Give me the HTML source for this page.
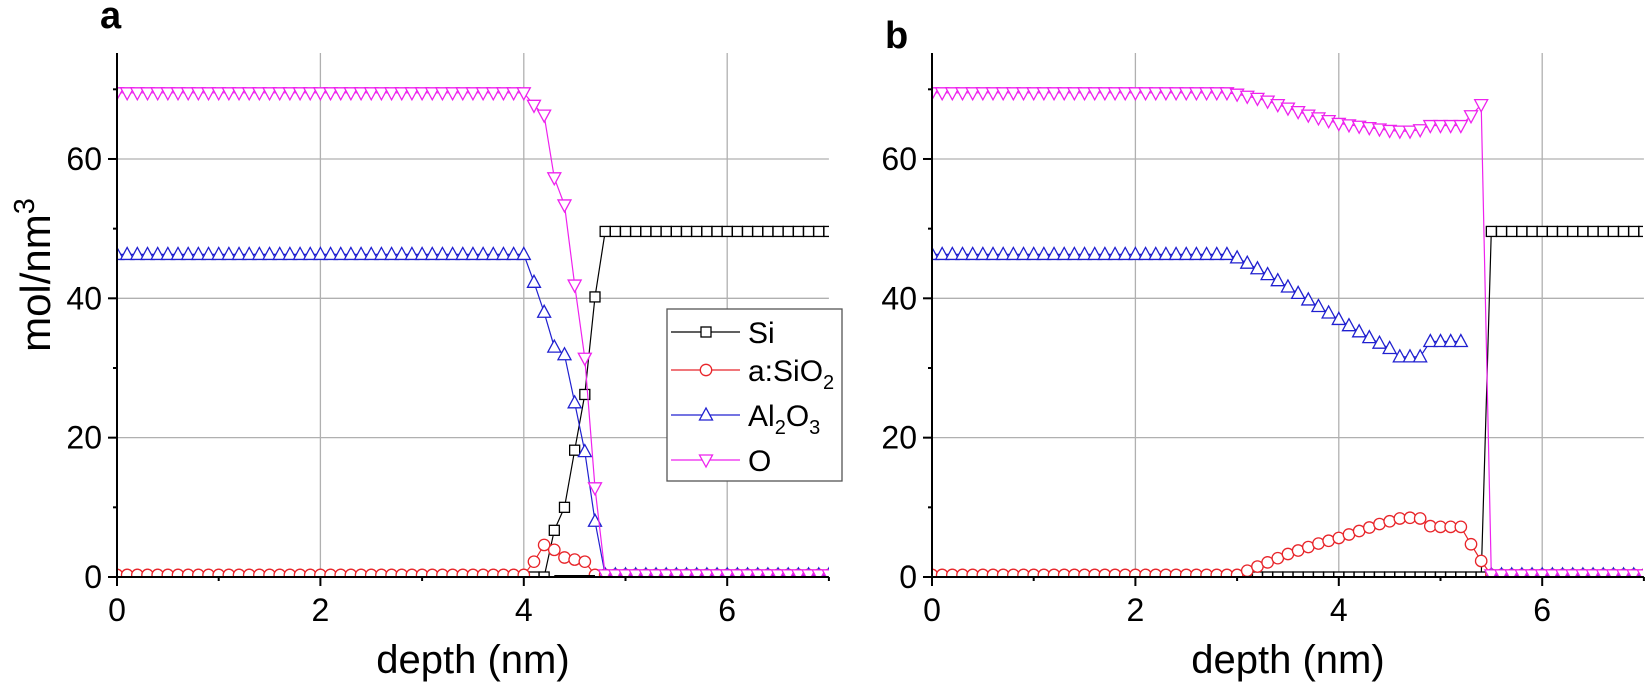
<!DOCTYPE html>
<html><head><meta charset="utf-8"><style>
html,body{margin:0;padding:0;background:#fff;}
svg{display:block;font-family:"Liberation Sans",Arial,sans-serif;}
</style></head><body>
<svg id="s" width="1650" height="697" xmlns="http://www.w3.org/2000/svg">
<defs>
<clipPath id="ca"><rect x="117" y="40" width="712" height="537"/></clipPath>
<clipPath id="cb"><rect x="932" y="40" width="711" height="537"/></clipPath>
</defs>
<g id="root"></g>
</svg>
<script>
const NS="http://www.w3.org/2000/svg";
const root=document.getElementById('root');
function el(t,a,p){const e=document.createElementNS(NS,t);for(const k in a)e.setAttribute(k,a[k]);(p||root).appendChild(e);return e;}
function txt(x,y,s,a,p){const e=el('text',Object.assign({x:x,y:y},a),p);e.textContent=s;return e;}
const Y0=577,PY=6.967,TOP=53,PN=101.7;
function arr(f){const r=[];for(let i=0;i<=70;i++){r.push(f(+(i/10).toFixed(1),i));}return r;}
function marker(g,type,x,y,c){
 if(type=='s')el('rect',{x:x-5,y:y-5,width:10,height:10,fill:'#fff',stroke:c,'stroke-width':1.3},g);
 else if(type=='c')el('circle',{cx:x,cy:y,r:5.7,fill:'#fff',stroke:c,'stroke-width':1.3},g);
 else if(type=='u')el('polygon',{points:`${x},${y-7} ${x-6.5},${y+5} ${x+6.5},${y+5}`,fill:'#fff',stroke:c,'stroke-width':1.3},g);
 else el('polygon',{points:`${x},${y+7} ${x-6.5},${y-5} ${x+6.5},${y-5}`,fill:'#fff',stroke:c,'stroke-width':1.3},g);
}
function panel(x0,clip,label,lx,ly,series){
 const X=v=>x0+v*PN, Y=v=>Y0-v*PY, xr=x0+7*PN;
 for(const v of [2,4,6])el('line',{x1:X(v),x2:X(v),y1:TOP,y2:Y0,stroke:'#b0b0b0','stroke-width':1.3});
 for(const v of [20,40,60])el('line',{x1:x0,x2:xr,y1:Y(v),y2:Y(v),stroke:'#b0b0b0','stroke-width':1.3});
 const g=el('g',{'clip-path':`url(#${clip})`});
 for(const s of series){
  let d='',pen=false;
  s.d.forEach((v,i)=>{if(v==null){pen=false;return;}d+=(pen?'L':'M')+X(i/10).toFixed(1)+','+Y(v).toFixed(1);pen=true;});
  el('path',{d:d,fill:'none',stroke:s.c,'stroke-width':1.2},g);
  s.d.forEach((v,i)=>{if(v!=null)marker(g,s.m,X(i/10),Y(v),s.c);});
 }
 el('line',{x1:x0,x2:x0,y1:TOP,y2:Y0+1,stroke:'#000','stroke-width':2});
 el('line',{x1:x0-1,x2:xr,y1:Y0,y2:Y0,stroke:'#000','stroke-width':2});
 for(let v=0;v<=70;v+=10){const maj=v%20==0;el('line',{x1:x0-(maj?9:4),x2:x0,y1:Y(v),y2:Y(v),stroke:'#000','stroke-width':2});
  if(maj)txt(x0-15,Y(v)+11,String(v),{'font-size':32,'text-anchor':'end'});}
 for(let v=0;v<=7;v++){const maj=v%2==0;el('line',{x1:X(v),x2:X(v),y1:Y0,y2:Y0+(maj?9:4),stroke:'#000','stroke-width':2});
  if(maj)txt(X(v),621,String(v),{'font-size':32,'text-anchor':'middle'});}
 txt((x0+xr)/2,673,'depth (nm)',{'font-size':40,'text-anchor':'middle'});
 txt(lx,ly,label,{'font-size':38,'font-weight':'bold'});
}
const aSi=arr(x=>x<=4.2?0:({4.3:6.7,4.4:10,4.5:18.2,4.6:26.2,4.7:40.2})[x]??49.6);
const aSiO=arr(x=>({4.1:2.2,4.2:4.6,4.3:3.9,4.4:2.8,4.5:2.5,4.6:2.2})[x]??0.3);
const aAl=arr(x=>x<=4.0?46.3:(({4.1:42.3,4.2:38,4.3:33,4.4:31.9,4.5:25,4.6:18,4.7:8})[x]??0.3));
const aO=arr(x=>x<=4.0?69.5:(({4.1:67.7,4.2:66.3,4.3:57.3,4.4:53.4,4.5:41.9,4.6:31.4,4.7:12.8})[x]??0.3));
panel(117,'ca','a',100,28,[
 {c:'#000',m:'s',d:aSi},{c:'#e8252a',m:'c',d:aSiO},{c:'#2020d0',m:'u',d:aAl},{c:'#ee22ee',m:'d',d:aO}]);
el('line',{x1:117+4.3*PN,x2:117+4.7*PN,y1:Y0-1,y2:Y0-1,stroke:'#000','stroke-width':2});
const bSi=arr(x=>x<=5.4?0:49.6);
const sio={3.0:0.3,3.1:0.9,3.2:1.5,3.3:2.1,3.4:2.7,3.5:3.3,3.6:3.8,3.7:4.3,3.8:4.8,3.9:5.2,4.0:5.6,4.1:6.1,4.2:6.6,4.3:7.1,4.4:7.6,4.5:8.0,4.6:8.4,4.7:8.5,4.8:8.4,4.9:7.3,5.0:7.2,5.1:7.2,5.2:7.2,5.3:4.7,5.4:2.3};
const bSiO=arr(x=>sio[x]??0.3);
const bAl=arr((x,i)=>{if(x<=2.9)return 46.3;if(x<=4.5){const t=(x-3.0)/1.5;return 45.8-13.0*(t*0.85+0.15*(1-Math.cos(Math.PI*t))/2);}
 if(x<=4.8)return 31.6;if(x<=5.2)return 33.8;if(x<=5.4)return null;return 0.3;});
const oo={3.0:69.3,3.1:69,3.2:68.7,3.3:68.3,3.4:67.8,3.5:67.3,3.6:66.8,3.7:66.3,3.8:65.9,3.9:65.5,4.0:65.1,4.1:64.9,4.2:64.7,4.3:64.5,4.4:64.3,4.5:64.1,4.6:64,4.7:64,4.8:64.2,4.9:64.8,5.0:64.8,5.1:64.8,5.2:64.8,5.3:66.2,5.4:67.8};
const bO=arr(x=>x<=2.9?69.5:(oo[x]??0.3));
panel(932,'cb','b',885,48,[
 {c:'#000',m:'s',d:bSi},{c:'#e8252a',m:'c',d:bSiO},{c:'#2020d0',m:'u',d:bAl},{c:'#ee22ee',m:'d',d:bO}]);
const yl=el('text',{transform:'translate(50,275) rotate(-90)','font-size':42,'text-anchor':'middle'});
yl.innerHTML='mol/nm<tspan dy="-16" font-size="29">3</tspan>';
const lg=el('g',{});
el('rect',{x:667,y:309,width:175,height:172,fill:'#fff',stroke:'#555','stroke-width':1.3},lg);
const L=[['Si','#000','s',332],['a:SiO<tspan dy="8" font-size="20">2</tspan>','#e8252a','c',370],['Al<tspan dy="8" font-size="20">2</tspan><tspan dy="-8">O</tspan><tspan dy="8" font-size="20">3</tspan>','#2020d0','u',415],['O','#ee22ee','d',460]];
for(const [t,c,m,y] of L){el('line',{x1:671,x2:740,y1:y,y2:y,stroke:c,'stroke-width':1.2},lg);marker(lg,m,706,y,c);
 const e=el('text',{x:748,y:y+11,'font-size':30},lg);e.innerHTML=t;}
</script>
</body></html>
